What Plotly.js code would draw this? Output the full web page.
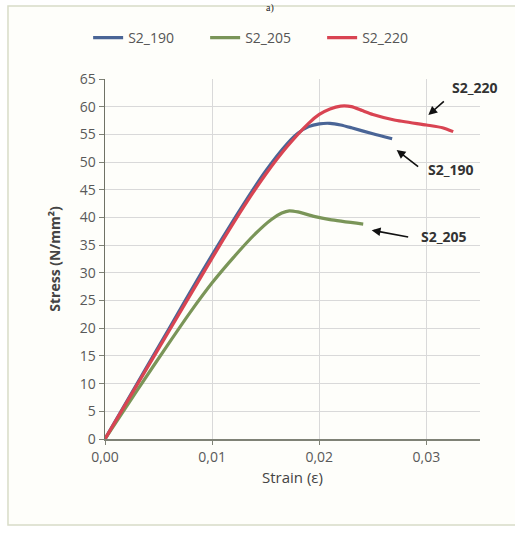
<!DOCTYPE html>
<html>
<head>
<meta charset="utf-8">
<script src="https://cdn.plot.ly/plotly-3.0.1.min.js"></script>
<style>html,body{margin:0;padding:0;background:#fff;}#chart{width:515px;height:533px;}</style>
</head>
<body>
<div id="chart"></div>
<script>
const seriesNames = ["S2_190", "S2_205", "S2_220"];
const strain190 = [0, 0.003, 0.006, 0.009, 0.011, 0.013, 0.015, 0.017, 0.018, 0.019, 0.020, 0.021, 0.022, 0.023, 0.025, 0.0268];
const stress190 = [0, 10, 20, 30, 36.4, 42.6, 48.4, 53.3, 55.2, 56.4, 56.9, 57.0, 56.7, 56.2, 55.1, 54.2];
const strain205 = [0, 0.003, 0.006, 0.008, 0.010, 0.012, 0.014, 0.0155, 0.0165, 0.0172, 0.018, 0.0195, 0.021, 0.0241];
const stress205 = [0, 8.8, 17.4, 23.0, 28.2, 32.8, 37.0, 39.6, 40.8, 41.2, 41.0, 40.2, 39.6, 38.8];
const strain220 = [0, 0.003, 0.006, 0.009, 0.011, 0.013, 0.015, 0.017, 0.019, 0.020, 0.021, 0.022, 0.023, 0.024, 0.025, 0.027, 0.030, 0.0315, 0.0325];
const stress220 = [0, 9.8, 19.6, 29.4, 35.9, 42.1, 47.8, 52.8, 57.0, 58.6, 59.6, 60.1, 60.0, 59.3, 58.6, 57.6, 56.7, 56.2, 55.5];
const xTickVals = [0, 0.01, 0.02, 0.03];
const xTickText = ["0,00", "0,01", "0,02", "0,03"];
const yTickVals = [0, 5, 10, 15, 20, 25, 30, 35, 40, 45, 50, 55, 60, 65];
const colors = ["#4a6596", "#7a9558", "#d94452"];

const xs = [strain190, strain205, strain220];
const ys = [stress190, stress205, stress220];
const traces = seriesNames.map((n, i) => ({
  x: xs[i], y: ys[i], name: n, type: "scatter", mode: "lines",
  line: {color: colors[i], width: 3.2, shape: "spline", smoothing: 0.6}
}));

const font = "'Open Sans', Lato, sans-serif";
const labelFont = {family: font, size: 14, color: "#333"};
function arrow(x, y, ax, ay) {
  return {x: x, y: y, xref: "x", yref: "y", text: "", showarrow: true, arrowhead: 2, arrowsize: 1.1, arrowwidth: 1.6, arrowcolor: "#111", ax: ax, ay: ay};
}
function label(t, x, y) {
  return {x: x, y: y, xref: "x", yref: "y", text: "<b>" + t + "</b>", showarrow: false, font: labelFont};
}

const layout = {
  width: 515, height: 533,
  margin: {l: 105, r: 35, t: 79, b: 94},
  paper_bgcolor: "#ffffff",
  plot_bgcolor: "rgba(0,0,0,0)",
  showlegend: true,
  legend: {orientation: "h", x: -0.045, xanchor: "left", y: 1.114, yanchor: "middle",
    font: {family: font, size: 14, color: "#555"}, bgcolor: "rgba(0,0,0,0)", traceorder: "normal", entrywidth: 72},
  xaxis: {range: [0, 0.035], tickvals: xTickVals, ticktext: xTickText, showgrid: true, gridcolor: "#d9d9d9", gridwidth: 1,
    zeroline: false, showline: true, linecolor: "#7f8276", linewidth: 2, ticks: "outside", ticklen: 4, tickcolor: "#7f8276",
    tickfont: {family: font, size: 14, color: "#595959"},
    title: {text: "Strain (ε)", font: {family: font, size: 15, color: "#444"}, standoff: 8}},
  yaxis: {range: [0, 65], tickvals: yTickVals, showgrid: true, gridcolor: "#d9d9d9", gridwidth: 1,
    zeroline: false, showline: true, linecolor: "#6f7266", linewidth: 1.5, ticks: "outside", ticklen: 5, tickcolor: "#7f8276",
    tickfont: {family: font, size: 14, color: "#595959"},
    title: {text: "<b>Stress (N/mm²)</b>", font: {family: font, size: 14, color: "#444"}, standoff: 16}},
  shapes: [
    {type: "rect", xref: "paper", yref: "paper", x0: -0.2587, x1: 1.107, y0: -0.239, y1: 1.203,
      line: {color: "#d8dcc8", width: 1.5}, fillcolor: "#fefefa", layer: "below"}
  ],
  annotations: [
    arrow(0.03018, 58.5, 17, -15),
    arrow(0.02722, 52.2, 23, 18),
    arrow(0.02489, 37.7, 38, 7),
    label("S2_220", 0.03453, 63.4),
    label("S2_190", 0.0323, 48.6),
    label("S2_205", 0.03164, 36.5),
    {x: 0.44, y: 1.2194, xref: "paper", yref: "paper", text: "a)", showarrow: false, yanchor: "top",
      font: {family: "Liberation Serif, serif", size: 10, color: "#222"}}
  ]
};
Plotly.newPlot("chart", traces, layout, {displayModeBar: false, staticPlot: true});
</script>
</body>
</html>
